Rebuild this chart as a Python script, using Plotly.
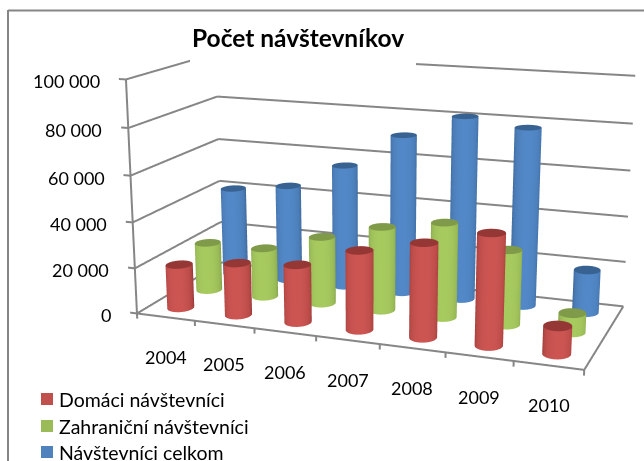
import numpy as np
import plotly.graph_objects as go

years = ["2004", "2005", "2006", "2007", "2008", "2009", "2010"]
domaci = [19300, 22800, 24900, 33800, 39700, 46300, 11500]
zahranicni = [21800, 22000, 29800, 36800, 41200, 32200, 8200]
celkom = [40500, 44000, 55500, 71000, 81000, 78000, 18800]
series_names = ["Domáci návštevníci", "Zahraničn\u00ed návštevníci", "Návštevníci celkom"]
z_ticks = [0, 20000, 40000, 60000, 80000, 100000]
z_labels = ["0", "20 000", "40 000", "60 000", "80 000", "100 000"]

W, H = 644, 461
GRID = "#868686"
RADIUS_X = 0.203
RADIUS_Y = 0.235
VIEW = np.array([0.3354, -0.9034]) / np.hypot(0.3354, 0.9034)
STYLES = [
    dict(light=(205, 86, 83), dark=(140, 50, 48), cap=(149, 55, 53), sq="#C0504D"),
    dict(light=(168, 203, 96), dark=(122, 150, 68), cap=(127, 154, 72), sq="#9BBB59"),
    dict(light=(83, 137, 200), dark=(54, 92, 138), cap=(56, 98, 146), sq="#4F81BD"),
]


def cylinders(values, row, st, n=48):
    xs, ys, zs, cols, I, J, K = [], [], [], [], [], [], []
    th = np.linspace(0, 2 * np.pi, n, endpoint=False)
    shade = np.clip(np.cos(th) * VIEW[0] + np.sin(th) * VIEW[1], 0, 1) ** 0.5
    side = [
        "rgb(%d,%d,%d)" % tuple(np.array(st["dark"]) + (np.array(st["light"]) - np.array(st["dark"])) * s)
        for s in shade
    ]
    cap = "rgb(%d,%d,%d)" % st["cap"]
    for i, v in enumerate(values):
        cx = i + 0.5 + RADIUS_X * np.cos(th)
        cy = row + RADIUS_Y * np.sin(th)
        b = len(xs)
        xs += list(cx) + list(cx)
        ys += list(cy) + list(cy)
        zs += [0] * n + [v] * n
        cols += side + side
        for a in range(n):
            c = (a + 1) % n
            I += [b + a, b + c]
            J += [b + c, b + n + c]
            K += [b + n + a, b + n + a]
        t = len(xs)
        xs += list(cx) + [i + 0.5]
        ys += list(cy) + [row]
        zs += [v] * (n + 1)
        cols += [cap] * (n + 1)
        for a in range(n):
            I.append(t + a)
            J.append(t + (a + 1) % n)
            K.append(t + n)
    return dict(x=xs, y=ys, z=zs, i=I, j=J, k=K, vertexcolor=cols)


fig = go.Figure()
nx = len(years)
for name, vals, row, st in zip(series_names, [domaci, zahranicni, celkom], [0.5, 1.5, 2.5], STYLES):
    fig.add_trace(go.Mesh3d(name=name, flatshading=False, hoverinfo="skip",
                            lighting=dict(ambient=1, diffuse=0, specular=0, fresnel=0, roughness=1),
                            **cylinders(vals, row, st)))

gx, gy, gz = [], [], []
def seg(a, b):
    for p, q, arr in zip(a, b, (gx, gy, gz)):
        arr += [p, q, None]
for z in z_ticks:
    seg((0, 0, z), (0, 3, z))
    seg((0, 3, z), (nx, 3, z))
    seg((-0.12, 0, z), (0, 0, z))
seg((0, 0, 0), (0, 0, 100000))
seg((0, 0, 0), (nx, 0, 0))
seg((nx, 0, 0), (nx, 3, 0))
for i in range(nx + 1):
    seg((i, 0, 0), (i, 0, -2300))
fig.add_trace(go.Scatter3d(x=gx, y=gy, z=gz, mode="lines", hoverinfo="skip",
                           line=dict(color=GRID, width=4), showlegend=False))

FONT = "Lato, Carlito, Calibri, sans-serif"
scene_ann = []
for z, lab in zip(z_ticks, z_labels):
    scene_ann.append(dict(x=0, y=0, z=z, text=lab, showarrow=False, xanchor="right", xshift=-24, yshift=-2,
                          font=dict(family=FONT, size=18, color="#000")))
for i, lab in enumerate(years):
    scene_ann.append(dict(x=i + 0.5, y=0, z=0, text=lab, showarrow=False, yshift=-40,
                          font=dict(family=FONT, size=18, color="#000")))

hid = dict(visible=False, showgrid=False, zeroline=False, showticklabels=False, showbackground=False,
           showspikes=False, title="")
shapes = [
    dict(type="rect", xref="paper", yref="paper", x0=190 / W, x1=416 / W, y0=1 - 66 / H, y1=1 - 15 / H,
         fillcolor="white", line_width=0, layer="above"),
    dict(type="line", xref="paper", yref="paper", x0=8 / W, x1=8 / W, y0=0, y1=1 - 10 / H,
         line=dict(color=GRID, width=2), layer="above"),
    dict(type="line", xref="paper", yref="paper", x0=8 / W, x1=1, y0=1 - 10.5 / H, y1=1 - 10.5 / H,
         line=dict(color=GRID, width=2), layer="above"),
]
annotations = [dict(xref="paper", yref="paper", x=298 / W, y=1 - 38 / H, text="<b>Počet návštevníkov</b>",
                    showarrow=False, yanchor="middle", font=dict(family=FONT, size=24.5, color="#000"))]
for name, st, cy in zip(series_names, STYLES, [399, 426, 452]):
    shapes.append(dict(type="rect", xref="paper", yref="paper", x0=41 / W, x1=53 / W,
                       y0=1 - (cy + 6) / H, y1=1 - (cy - 6) / H, fillcolor=st["sq"], line_width=0, layer="above"))
    annotations.append(dict(xref="paper", yref="paper", x=57 / W, y=1 - cy / H, text=name, xanchor="left",
                            yanchor="middle", showarrow=False, font=dict(family=FONT, size=19.5, color="#000")))

fig.update_layout(
    width=W, height=H, margin=dict(l=0, r=0, t=0, b=0), autosize=False, paper_bgcolor="white", showlegend=False,
    shapes=shapes, annotations=annotations,
    scene=dict(
        domain=dict(x=[92 / W, 1], y=[0, 445 / H]),
        xaxis=dict(range=[-0.15, nx + 0.05], **hid), yaxis=dict(range=[-0.05, 3.05], **hid),
        zaxis=dict(range=[-3000, 101500], **hid),
        aspectmode="manual", aspectratio=dict(x=1.02857, y=0.43874, z=0.5444),
        camera=dict(up=dict(x=0, y=0, z=1), center=dict(x=-0.01367, y=-0.0339, z=-0.0845),
                    eye=dict(x=0.99873, y=-2.7609, z=0.7221), projection=dict(type="perspective")),
        annotations=scene_ann, bgcolor="white", dragmode=False,
    ),
)
post = """
document.body.style.margin='0';document.body.style.overflow='hidden';
var gd=document.getElementById('{plot_id}');
var gp=gd._fullLayout.scene._scene.glplot;
gp.fovy=0.3187;gp.redraw();
"""
fig.write_html("out.html", post_script=post, config=dict(displayModeBar=False))
